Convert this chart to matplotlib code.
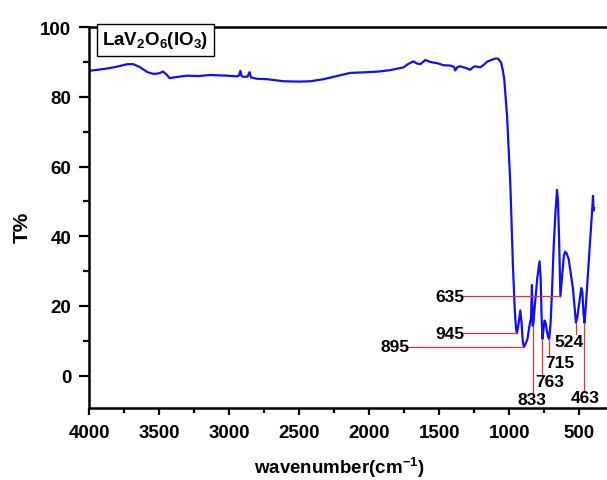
import numpy as np
import matplotlib
matplotlib.use("Agg")
import matplotlib.pyplot as plt
from matplotlib.ticker import MultipleLocator

# espectro IR (numero de onda en cm-1, transmitancia en %)
wavenumber = [4000, 3920, 3850, 3780, 3730, 3684, 3636, 3584, 3540, 3500,
              3474, 3450, 3426, 3380, 3302, 3220, 3136, 3016, 2945, 2930,
              2921, 2912, 2902, 2870, 2855, 2845, 2800, 2731, 2612, 2500,
              2421, 2326, 2230, 2136, 2016, 1930, 1850, 1790, 1755, 1720,
              1684, 1660, 1636, 1600, 1560, 1516, 1469, 1420, 1395, 1386,
              1370, 1350, 1310, 1279, 1260, 1243, 1207, 1180, 1159, 1130,
              1100, 1080, 1059, 1048, 1036, 1016, 993, 974, 962, 957,
              950, 945, 935, 921, 912, 903, 895, 885, 870, 855,
              845, 840, 838, 835, 833, 828, 820, 800, 784, 776,
              770, 763, 755, 748, 740, 730, 722, 715, 705, 695,
              683, 670, 659, 652, 643, 635, 620, 610, 600, 590,
              576, 560, 545, 530, 524, 515, 500, 486, 478, 470,
              463, 455, 445, 433, 420, 409, 402, 398, 395]
transmittance = [87.5, 87.9, 88.3, 88.9, 89.4, 89.4, 88.5, 87.1, 86.6, 86.8,
                 87.3, 86.5, 85.4, 85.7, 86.1, 86.0, 86.3, 86.1, 85.9, 86.2,
                 87.5, 86.0, 85.8, 85.8, 87.1, 85.6, 85.2, 85.1, 84.5, 84.4,
                 84.5, 85.1, 86.0, 86.9, 87.1, 87.3, 87.7, 88.2, 88.5, 89.5,
                 90.2, 89.6, 89.4, 90.6, 90.0, 89.7, 89.1, 89.0, 88.6, 87.6,
                 88.6, 88.8, 88.3, 87.8, 88.5, 88.8, 88.5, 89.3, 90.1, 90.6,
                 91.0, 91.0, 89.9, 88.0, 85.1, 74.6, 55.5, 31.6, 20.0, 16.3,
                 13.0, 12.2, 14.5, 18.7, 15.0, 9.5, 8.2, 9.0, 10.5, 14.5,
                 16.5, 24.0, 26.0, 20.0, 14.3, 15.0, 19.0, 28.0, 32.8, 28.0,
                 18.0, 10.5, 13.5, 15.8, 15.0, 12.5, 11.0, 10.5, 15.0, 24.0,
                 37.0, 47.0, 53.3, 50.0, 37.3, 22.7, 30.0, 34.5, 35.6, 35.0,
                 33.5, 29.0, 24.9, 18.0, 15.2, 16.5, 21.0, 25.1, 24.0, 18.0,
                 15.1, 19.0, 25.0, 32.5, 40.0, 46.9, 51.6, 47.4, 48.0]

# bandas marcadas con linea horizontal
h_peaks = [635, 945, 895]
h_level = [22.7, 12.2, 8.2]
h_start = [1338, 1338, 1731]

# bandas marcadas con linea vertical
v_peaks = [833, 763, 715, 524, 463]
v_top = [14.3, 10.5, 10.5, 15.0, 15.0]
v_bottom = [-5.0, 0.0, 6.0, 12.0, -4.8]

x_ticks = [4000, 3500, 3000, 2500, 2000, 1500, 1000, 500]
y_ticks = [0, 20, 40, 60, 80, 100]

plt.rcParams['font.family'] = ['Liberation Sans', 'DejaVu Sans']
plt.rcParams['font.weight'] = 'bold'
plt.rcParams['mathtext.fontset'] = 'custom'
plt.rcParams['mathtext.rm'] = 'Liberation Sans:bold'
plt.rcParams['mathtext.bf'] = 'Liberation Sans:bold'
plt.rcParams['mathtext.it'] = 'Liberation Sans:bold'

fig = plt.figure(figsize=(6.07, 4.81), dpi=100)
ax = fig.add_axes([0.1471, 0.1491, 0.8649, 0.7921])

ax.plot(wavenumber, transmittance, color='#1010f0', lw=1.6)

red = '#f03030'
for p, lvl, x0 in zip(h_peaks, h_level, h_start):
    ax.plot([x0, p], [lvl, lvl], color=red, lw=0.9)
    ax.text(x0 - 15, lvl, str(p), ha='right', va='center', fontsize=12.5,
            fontweight='bold')

# posicion de los textos de las lineas verticales
v_text_x = [838, 711, 641, 576, 457]
v_text_y = [-6.9, -1.8, 3.8, 9.8, -6.4]
for p, top, bot, tx, ty in zip(v_peaks, v_top, v_bottom, v_text_x, v_text_y):
    ax.plot([p, p], [top, bot], color=red, lw=0.9)
    ax.text(tx, ty, str(p), ha='center', va='center', fontsize=12.5,
            fontweight='bold')

ax.set_xlim(4000, 250)
ax.set_ylim(-9.4, 100)
ax.set_xticks(x_ticks)
ax.set_yticks(y_ticks)
ax.xaxis.set_minor_locator(MultipleLocator(250))
ax.yaxis.set_minor_locator(MultipleLocator(10))

for s in ['left', 'bottom', 'top']:
    ax.spines[s].set_linewidth(1.8)
ax.spines['right'].set_visible(False)
ax.tick_params(axis='x', which='major', direction='out', length=5, width=1.6,
               labelsize=13.5, pad=6)
ax.tick_params(axis='x', which='minor', direction='out', length=3.5, width=1.6)
ax.tick_params(axis='y', which='major', direction='out', length=7, width=1.6,
               labelsize=13.5, pad=6)
ax.tick_params(axis='y', which='minor', direction='out', length=4.5, width=1.6)
for lab in ax.get_xticklabels() + ax.get_yticklabels():
    lab.set_fontweight('bold')

ax.set_xlabel(r'wavenumber(cm$^{-1}$)', fontsize=13.5, fontweight='bold',
              va='center')
ax.xaxis.set_label_coords(0.477, -0.154)
ax.set_ylabel('T%', fontsize=15, fontweight='bold')
ax.yaxis.set_label_coords(-0.110, 0.478)

fig.text(0.2562, 0.9148, r'LaV$_{2}$O$_{6}$(IO$_{3}$)', ha='center', va='center',
         fontsize=13.5, fontweight='bold',
         bbox=dict(boxstyle='square,pad=0.3', fc='white', ec='black', lw=1.0))

fig.savefig('out.png', dpi=100)
